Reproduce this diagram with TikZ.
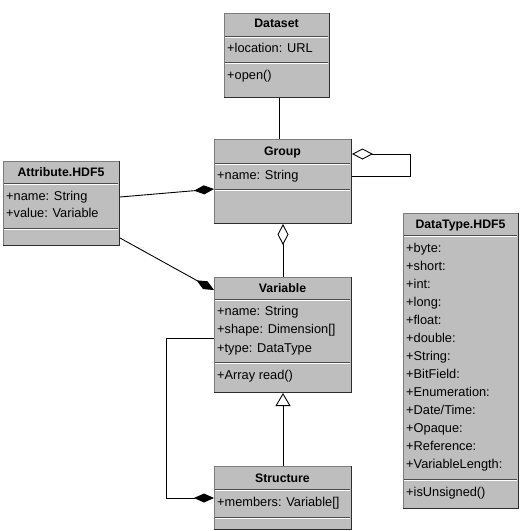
\documentclass[tikz,border=0pt]{standalone}
\usepackage{fontspec}
\setmainfont{Liberation Sans}
\usetikzlibrary{arrows.meta}
\definecolor{boxfill}{RGB}{190,190,190}
\definecolor{boxedge}{RGB}{125,125,125}
\definecolor{boxshade}{RGB}{45,45,45}
\definecolor{sepdark}{RGB}{75,75,75}
\newcommand\sepln[3]{\draw[sepd] (#1,#3) -- (#2,#3); \draw[sepl] (#1,#3+1) -- (#2,#3+1);}
\newcommand\boxshadow[1]{\draw[boxsh] ([xshift=-0.5pt]#1.north east) -- ([xshift=-0.5pt,yshift=0.5pt]#1.south east) -- ([yshift=0.5pt]#1.south west);}
\begin{document}
\begin{tikzpicture}[x=1pt,y=-1pt,
  every node/.style={font=\fontsize{12.8}{15}\selectfont},
  classbox/.style={draw=boxedge, fill=boxfill, line width=1pt, inner sep=0pt, anchor=north west},
  boxsh/.style={draw=boxshade, line width=1.5pt},
  sepd/.style={draw=sepdark, line width=1pt},
  sepl/.style={draw=white, line width=0.8pt},
  ctitle/.style={font=\fontsize{12.3}{15}\selectfont\bfseries, inner sep=0pt, text height=9pt, text depth=2.5pt},
  member/.style={anchor=west, inner sep=0pt, text height=9pt, text depth=2.5pt},
  conn/.style={draw=black, line width=0.9pt},
  fdiam/.style={-{Diamond[length=20pt,width=9pt,fill=black]}},
  odiam/.style={{Diamond[length=21pt,width=11pt,fill=white]}-},
  gen/.style={-{Triangle[length=13pt,width=15pt,fill=white]}}
]
\useasboundingbox[fill=white] (0,0) rectangle (528,531);

% ---------- Dataset ----------
\node[classbox, minimum width=105pt, minimum height=84pt] (dataset) at (224,13) {};
\boxshadow{dataset}
\node[ctitle] (dataset-t) at (276.5,24.5) {Dataset};
\sepln{225}{328}{36}
\node[member] (dataset-a1) at (227,49) {+location: URL};
\sepln{225}{328}{62}
\node[member] (dataset-m1) at (227,76) {+open()};

% ---------- Group ----------
\node[classbox, minimum width=137pt, minimum height=84pt] (group) at (214,139) {};
\boxshadow{group}
\node[ctitle] (group-t) at (282.5,152) {Group};
\sepln{215}{350}{163}
\node[member] (group-a1) at (217,176) {+name: String};
\sepln{215}{350}{189}

% ---------- Attribute.HDF5 ----------
\node[classbox, minimum width=116pt, minimum height=84pt] (attr) at (3,161) {};
\boxshadow{attr}
\node[ctitle] (attr-t) at (61,173) {Attribute.HDF5};
\sepln{4}{118}{183}
\node[member] (attr-a1) at (6,197) {+name: String};
\node[member] (attr-a2) at (6,214) {+value: Variable};
\sepln{4}{118}{228}

% ---------- Variable ----------
\node[classbox, minimum width=137pt, minimum height=115pt] (variable) at (214,277) {};
\boxshadow{variable}
\node[ctitle] (variable-t) at (282.5,289) {Variable};
\sepln{215}{350}{299}
\node[member] (variable-a1) at (217,312) {+name: String};
\node[member] (variable-a2) at (217,330.5) {+shape: Dimension[]};
\node[member] (variable-a3) at (217,349) {+type: DataType};
\sepln{215}{350}{362}
\node[member] (variable-m1) at (217,376) {+Array read()};

% ---------- Structure ----------
\node[classbox, minimum width=137pt, minimum height=63pt] (structure) at (214,466) {};
\boxshadow{structure}
\node[ctitle] (structure-t) at (282.5,479) {Structure};
\sepln{215}{350}{489}
\node[member] (structure-a1) at (217,503) {+members: Variable[]};
\sepln{215}{350}{517}

% ---------- DataType.HDF5 ----------
\node[classbox, minimum width=115pt, minimum height=295pt] (datatype) at (403,213) {};
\boxshadow{datatype}
\node[ctitle] (datatype-t) at (460.5,225) {DataType.HDF5};
\sepln{404}{517}{235}
\foreach \t [count=\i from 0] in {byte:,short:,int:,long:,float:,double:,String:,BitField:,Enumeration:,Date/Time:,Opaque:,Reference:,VariableLength:}
  \node[member] (datatype-a\i) at (406,249+18*\i) {+\t};
\sepln{404}{517}{479}
\node[member] (datatype-m1) at (406,493) {+isUnsigned()};

% ---------- connectors ----------
\draw[conn] ([xshift=2.5pt]dataset.south) -- ([xshift=2.5pt]dataset.south |- group.north);
\draw[conn, fdiam] (attr.east |- 0,197) -- (group.west |- 0,189);
\draw[conn, fdiam] (attr.east |- 0,238) -- (variable.west |- 0,290);
\draw[conn, odiam] (group.south) -- (variable.north);
\draw[conn, odiam] (group.east |- 0,154) -- ++(58,0) -- ++(0,22) -- (group.east |- 0,176);
\draw[conn, gen] (structure.north) -- (variable.south);
\draw[conn, fdiam] (variable.west |- 0,338) -- ++(-48,0) |- (structure.west |- 0,498);
\end{tikzpicture}
\end{document}
